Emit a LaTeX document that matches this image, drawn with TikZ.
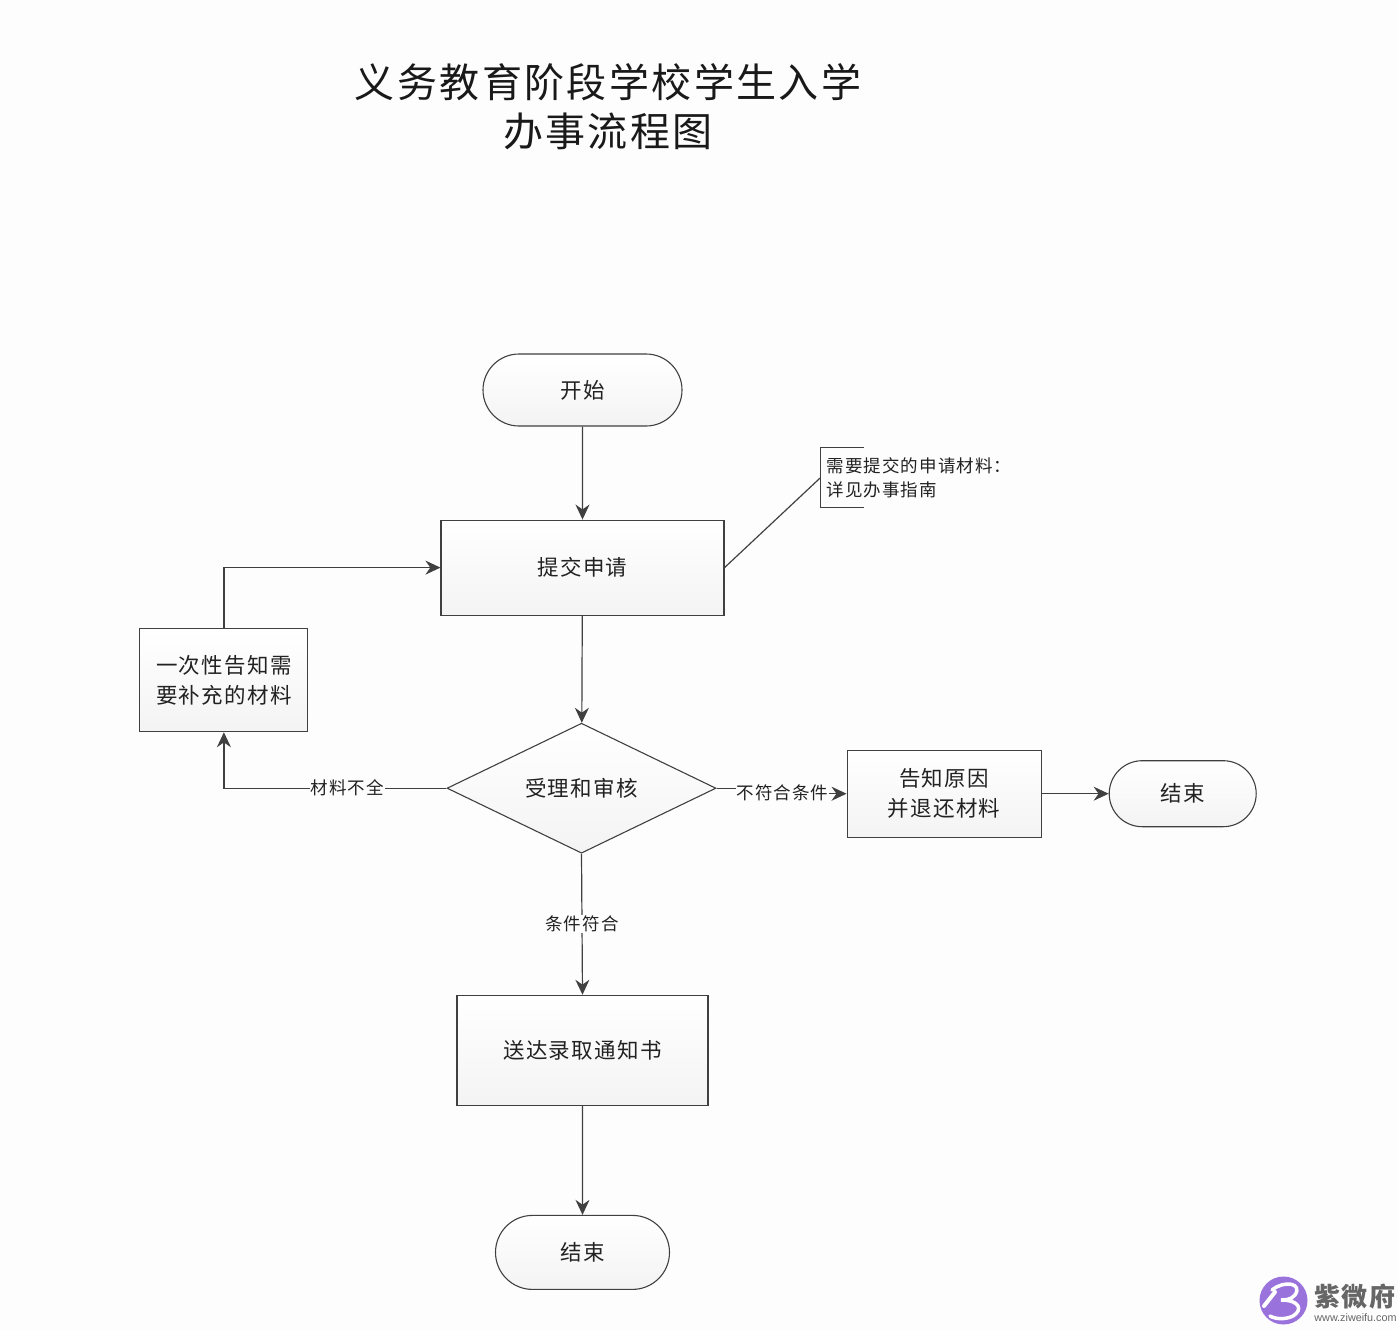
\documentclass[tikz,border=0pt]{standalone}
\usepackage{fontspec}
\setmainfont[LetterSpace=6]{Noto Sans CJK SC}
\newfontfamily\latinfont{Liberation Sans}
\usetikzlibrary{arrows.meta, positioning, shapes.geometric, shapes.misc}
\definecolor{linegray}{HTML}{404040}
\definecolor{textgray}{HTML}{222222}
\definecolor{pagewhite}{HTML}{FDFDFE}
\definecolor{markpurple}{HTML}{9A72DC}
\definecolor{markgray}{HTML}{666666}

\begin{document}
\begin{tikzpicture}[
  x=1pt, y=-1pt,
  stepbox/.style={draw=linegray, line width=1.1pt, top color=white, bottom color=gray!9, text=textgray, font=\fontsize{21.5}{30}\selectfont, align=center, inner sep=0pt},
  termbox/.style={stepbox, rounded rectangle},
  decisionbox/.style={stepbox, diamond, aspect=2.07, minimum width=269pt, minimum height=130pt},
  flow/.style={draw=linegray, line width=1.2pt, -{Stealth[length=15pt, width=14pt]}},
  plainline/.style={draw=linegray, line width=1.2pt},
  edgetext/.style={fill=pagewhite, text=textgray, font=\fontsize{17.5}{22}\selectfont, inner sep=1pt}
]
\useasboundingbox (0,0) rectangle (1398,1330);
\fill[pagewhite] (0,0) rectangle (1398,1330);

\node[text=black!90, font=\fontsize{40}{49}\selectfont, align=center] (title) at (608,107) {义务教育阶段学校学生入学\\办事流程图};

\node[termbox, minimum width=199pt, minimum height=72pt] (start) at (582.5,390) {开始};
\node[stepbox, minimum width=283pt, minimum height=95pt, below=93pt of start] (submit) {提交申请};
\node[decisionbox, below=107pt of submit, xshift=-1pt] (review) {受理和审核};
\node[stepbox, minimum width=168pt, minimum height=103pt, left=138pt of review, yshift=108pt] (notify) {一次性告知需\\要补充的材料};
\node[stepbox, minimum width=194pt, minimum height=87pt, right=130pt of review, yshift=-5.5pt] (reject) {告知原因\\并退还材料};
\node[termbox, minimum width=147pt, minimum height=66pt, right=67pt of reject] (endreject) {结束};
\node[stepbox, minimum width=251pt, minimum height=110pt, below=141pt of review, xshift=1pt] (deliver) {送达录取通知书};
\node[termbox, minimum width=174pt, minimum height=74pt, below=109pt of deliver] (endpass) {结束};

% note box, open on its right side
\node[right=96pt of submit, yshift=90pt, minimum height=60pt, text=textgray, font=\fontsize{17.5}{24}\selectfont, align=left, inner xsep=6pt, inner ysep=0pt] (note) {需要提交的申请材料：\\详见办事指南};
\draw[plainline] ([xshift=43pt]note.north west) -- (note.north west) -- (note.south west) -- ([xshift=43pt]note.south west);
\draw[plainline] (submit.east) -- (note.west);

\draw[flow] (start) -- (submit);
\draw[flow] (submit) -- (review);
\draw[flow] (notify.north) |- (submit.west);
\draw[flow] (review.west) -| node[edgetext, pos=0.223] (lacktext) {材料不全} (notify.south);
\coordinate (failbend) at ([xshift=66pt]review.east);
\draw[flow] (review.east) -- (failbend) |- (reject.west);
\node[edgetext, at={([yshift=-5pt]failbend)}] (failtext) {不符合条件};
\draw[flow] (reject) -- (endreject);
\draw[flow] (review.south) -- node[edgetext] (passtext) {条件符合} (deliver.north);
\draw[flow] (deliver) -- (endpass);

% watermark
\node[circle, fill=markpurple, minimum size=48pt, inner sep=0pt] (logo) at (1283.5,1300.5) {};
\draw[white, line width=3.5pt, line cap=round] (1272,1290) .. controls (1284,1280) and (1303,1283) .. (1295,1295) .. controls (1291,1300) and (1284,1300) .. (1281,1300) .. controls (1300,1300) and (1303,1310) .. (1293,1316) .. controls (1285,1320) and (1275,1319) .. (1270,1316);
\draw[white, line width=4pt, line cap=round] (1264,1306) -- (1275,1292);
\node[text=markgray, font=\fontsize{26}{28}\selectfont\bfseries, inner sep=0pt] (markname) at (1355,1297) {紫微府};
\node[text=markgray, font=\latinfont\fontsize{10.8}{13}\selectfont, inner sep=0pt] (markurl) at (1355.5,1318) {www.ziweifu.com};

\end{tikzpicture}
\end{document}
